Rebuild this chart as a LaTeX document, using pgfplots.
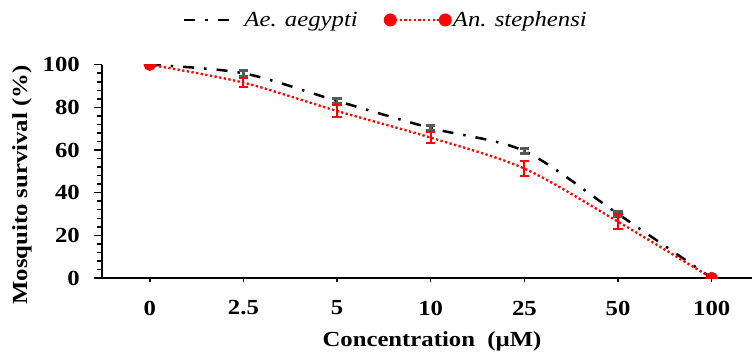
\documentclass[border=0pt]{standalone}
\usepackage{fontspec}
\setmainfont{Liberation Serif}[FakeStretch=1.15]
\usepackage{pgfplots}
\pgfplotsset{compat=1.18}
\definecolor{errgray}{HTML}{595959}
\definecolor{myred}{HTML}{FF0000}
\begin{document}
\begin{tikzpicture}
\begin{axis}[
  name=ax,
  scale only axis, width=650bp, height=213.3bp,
  xmin=-0.51, xmax=6.43, ymin=0, ymax=100,
  axis x line=bottom, axis y line=left,
  axis line style={-, line width=2bp, black},
  xtick={0,...,6}, xticklabels={0,2.5,5,10,25,50,100},
  ytick={0,20,...,100}, minor y tick num=4,
  minor xtick={},
  tick align=outside,
  major tick length=8bp, minor tick length=5bp,
  xtick style={/pgfplots/major tick length=4bp},
  tick style={line width=1.5bp, black},
  /pgf/number format/assume math mode=true,
  tick label style={font=\bfseries\fontsize{21.5bp}{24bp}\selectfont},
  yticklabel style={inner sep=0pt, anchor=east, xshift=-14bp},
  xticklabel style={inner sep=0pt, anchor=center, yshift=-22bp},
  xlabel={Concentration\ \ (µM)},
  ylabel={Mosquito survival (\%)},
  label style={font=\bfseries\fontsize{21.5bp}{24bp}\selectfont},
  xlabel style={at={(axis description cs:0.5077,-0.2954)}, anchor=center, inner sep=0pt},
  ylabel style={at={(axis description cs:-0.1231,0.436)}, anchor=center, inner sep=0pt, rotate=0},
  clip marker paths=true,
  legend columns=2,
  legend style={draw=none, fill=none, inner sep=0pt, outer sep=0pt,
    font=\itshape\fontsize{21.5bp}{24bp}\selectfont,
    nodes={inner sep=0pt, outer sep=0pt},
    /tikz/every even column/.append style={column sep=26bp},
    at={(axis description cs:0.1246,1.2096)}, anchor=west},
]
\addplot[black, line width=2.5bp, dash pattern=on 11bp off 10bp on 2.5bp off 10bp,
  smooth, tension=0.5, no markers,
  legend image code/.code={
    \draw[black, line width=2.5bp, dash pattern=on 11bp off 10bp on 2.5bp off 10bp] (0bp,0bp) -- (45bp,0bp);
    \path (59bp,0bp);},
  error bars/.cd, y dir=both, y explicit,
  error bar style={solid, line width=2.5bp, errgray},
  error mark options={rotate=90, mark size=4.6bp, line width=2.5bp, errgray, solid}]
  table[x=x, y=y, y error=e] {
x y e
0 100 0
1 96.0 1.2
2 83.0 1.2
3 70.3 1.2
4 59.5 1.2
5 30.0 1.2
6 0 0
};
\addlegendentry{Ae. aegypti}
\addplot[myred, line width=2.3bp, dash pattern=on 2.3bp off 2.4bp,
  smooth, tension=0.5,
  mark=*, mark indices={1,7}, mark size=5bp, mark options={solid, fill=myred, draw=myred},
  legend image code/.code={
    \draw[myred, line width=2.3bp, dash pattern=on 2.3bp off 2.4bp] (0bp,0bp) -- (55bp,0bp);
    \fill[myred, solid, draw=none] (0bp,0bp) circle (6.5bp);
    \fill[myred, solid, draw=none] (55bp,0bp) circle (6.5bp);
    \path (61.5bp,0bp);},
  error bars/.cd, y dir=both, y explicit,
  error bar style={solid, line width=2bp, myred},
  error mark options={rotate=90, mark size=4.6bp, line width=2bp, myred, solid}]
  table[x=x, y=y, y error=e] {
x y e
0 100 0
1 91.6 2.1
2 78.3 2.8
3 65.8 2.6
4 51.3 3.5
5 26.4 3.5
6 0 0
};
\addlegendentry{An. stephensi}
\end{axis}
\pgfresetboundingbox
\path ([xshift=-102bp, yshift=-77bp]ax.south west) rectangle ([yshift=64.7bp]ax.north east);
\end{tikzpicture}
\end{document}
